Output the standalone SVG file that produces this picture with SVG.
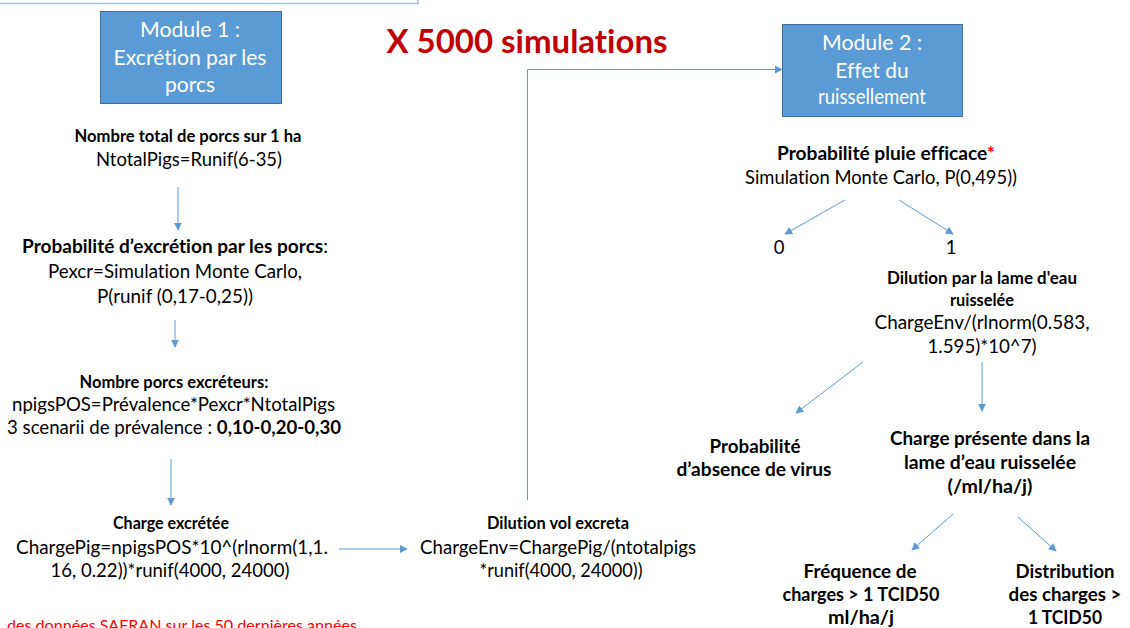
<svg xmlns="http://www.w3.org/2000/svg" width="1130" height="628" viewBox="0 0 1130 628">
<defs>
<style>
text{font-family:Lato,"Open Sans","Liberation Sans",sans-serif;fill:#000;text-anchor:middle;font-variant-ligatures:none}
.b{font-weight:bold}
.r{font-size:18.5px}
.s{font-size:16.5px;font-weight:bold}
.m{font-size:19px;font-weight:bold}
.w{fill:#fff;font-size:21px}
.box{fill:#5b9bd5;stroke:#41719c;stroke-width:1}
.c{fill:none;stroke:#5b9bd5;stroke-width:1}
</style>
<marker id="ah" viewBox="0 0 10 10" refX="9" refY="5" markerWidth="8" markerHeight="8" markerUnits="userSpaceOnUse" orient="auto">
<path d="M0,0 L10,5 L0,10 z" fill="#5b9bd5"/>
</marker>
</defs>
<rect width="1130" height="628" fill="#fff"/>
<path d="M0,3.5 H418 V0" fill="none" stroke="#a9c1dc" stroke-width="1.5"/>

<g id="module1">
<rect class="box" x="100.5" y="11.5" width="181" height="92"/>
<text class="w" x="190" y="37" textLength="100" lengthAdjust="spacingAndGlyphs">Module 1 :</text>
<text class="w" x="190" y="65" textLength="153" lengthAdjust="spacingAndGlyphs">Excrétion par les</text>
<text class="w" x="190" y="92">porcs</text>
</g>

<g id="title">
<text x="527" y="53" textLength="281" lengthAdjust="spacingAndGlyphs" style="font-size:33px;font-weight:bold;fill:#c00000">X 5000 simulations</text>
</g>

<g id="module2">
<rect class="box" x="782.5" y="24.5" width="180" height="92"/>
<text class="w" x="872" y="50" textLength="100" lengthAdjust="spacingAndGlyphs">Module 2 :</text>
<text class="w" x="872" y="78">Effet du</text>
<text class="w" x="872" y="104" textLength="108" lengthAdjust="spacingAndGlyphs">ruissellement</text>
</g>

<g id="n-total">
<text class="s" x="188" y="142" textLength="227" lengthAdjust="spacingAndGlyphs">Nombre total de porcs sur 1 ha</text>
<text class="r" x="189" y="166" textLength="186" lengthAdjust="spacingAndGlyphs">NtotalPigs=Runif(6-35)</text>
</g>

<g id="n-pexcr">
<text class="r" x="175" y="253" textLength="306" lengthAdjust="spacingAndGlyphs"><tspan class="b">Probabilité d’excrétion par les porcs</tspan>:</text>
<text class="r" x="175" y="278" textLength="254" lengthAdjust="spacingAndGlyphs">Pexcr=Simulation Monte Carlo,</text>
<text class="r" x="175" y="303" textLength="156" lengthAdjust="spacingAndGlyphs">P(runif (0,17-0,25))</text>
</g>

<g id="n-npos">
<text class="s" x="174" y="388" textLength="189" lengthAdjust="spacingAndGlyphs">Nombre porcs excréteurs:</text>
<text class="r" x="173.5" y="411" textLength="323" lengthAdjust="spacingAndGlyphs">npigsPOS=Prévalence*Pexcr*NtotalPigs</text>
<text class="r" x="174" y="434" textLength="334" lengthAdjust="spacingAndGlyphs">3 scenarii de prévalence : <tspan class="b">0,10-0,20-0,30</tspan></text>
</g>

<g id="n-chargepig">
<text class="s" x="171" y="529" textLength="116" lengthAdjust="spacingAndGlyphs">Charge excrétée</text>
<text class="r" x="172" y="554" textLength="312" lengthAdjust="spacingAndGlyphs">ChargePig=npigsPOS*10^(rlnorm(1,1.</text>
<text class="r" x="170" y="577" textLength="239" lengthAdjust="spacingAndGlyphs">16, 0.22))*runif(4000, 24000)</text>
</g>

<g id="n-note">
<text x="182" y="631" textLength="350" lengthAdjust="spacingAndGlyphs" style="font-size:16px;fill:#ff0000">des données SAFRAN sur les 50 dernières années</text>
</g>

<g id="n-dilution">
<text class="s" x="558" y="529" textLength="142" lengthAdjust="spacingAndGlyphs">Dilution vol excreta</text>
<text class="r" x="558" y="554" textLength="276" lengthAdjust="spacingAndGlyphs">ChargeEnv=ChargePig/(ntotalpigs</text>
<text class="r" x="561" y="577" textLength="163" lengthAdjust="spacingAndGlyphs">*runif(4000, 24000))</text>
</g>

<g id="n-pluie">
<text class="m" x="886" y="160" textLength="218" lengthAdjust="spacingAndGlyphs">Probabilité pluie efficace<tspan style="fill:#ff0000">*</tspan></text>
<text class="r" x="881" y="184" textLength="272" lengthAdjust="spacingAndGlyphs">Simulation Monte Carlo, P(0,495))</text>
</g>

<g id="n-zero"><text class="r" x="779" y="254">0</text></g>
<g id="n-one"><text class="r" x="951" y="254">1</text></g>

<g id="n-lame">
<text class="s" x="982" y="284" textLength="190" lengthAdjust="spacingAndGlyphs">Dilution par la lame d'eau</text>
<text class="s" x="982" y="306" textLength="64" lengthAdjust="spacingAndGlyphs">ruisselée</text>
<text class="r" x="982" y="329" textLength="215" lengthAdjust="spacingAndGlyphs">ChargeEnv/(rlnorm(0.583,</text>
<text class="r" x="982" y="353" textLength="109" lengthAdjust="spacingAndGlyphs">1.595)*10^7)</text>
</g>

<g id="n-absence">
<text class="m" x="755" y="453" textLength="91" lengthAdjust="spacingAndGlyphs">Probabilité</text>
<text class="m" x="754" y="476" textLength="155" lengthAdjust="spacingAndGlyphs">d’absence de virus</text>
</g>

<g id="n-charge">
<text class="m" x="990" y="445" textLength="200" lengthAdjust="spacingAndGlyphs">Charge présente dans la</text>
<text class="m" x="990" y="469" textLength="172" lengthAdjust="spacingAndGlyphs">lame d’eau ruisselée</text>
<text class="m" x="990" y="493" textLength="85" lengthAdjust="spacingAndGlyphs">(/ml/ha/j)</text>
</g>

<g id="n-freq">
<text class="m" x="860" y="578" textLength="113" lengthAdjust="spacingAndGlyphs">Fréquence de</text>
<text class="m" x="861" y="601" textLength="157" lengthAdjust="spacingAndGlyphs">charges &gt; 1 TCID50</text>
<text class="m" x="861" y="624" textLength="66" lengthAdjust="spacingAndGlyphs">ml/ha/j</text>
</g>

<g id="n-distrib">
<text class="m" x="1065" y="578" textLength="99" lengthAdjust="spacingAndGlyphs">Distribution</text>
<text class="m" x="1065" y="601" textLength="113" lengthAdjust="spacingAndGlyphs">des charges &gt;</text>
<text class="m" x="1065" y="624" textLength="74" lengthAdjust="spacingAndGlyphs">1 TCID50</text>
</g>

<g id="connectors">
<path class="c" d="M178,187 V230" marker-end="url(#ah)"/>
<path class="c" d="M175,320 V347" marker-end="url(#ah)"/>
<path class="c" d="M171,459 V505" marker-end="url(#ah)"/>
<path class="c" d="M339,549 H407" marker-end="url(#ah)"/>
<path class="c" d="M527.5,500 V69.5 H782" marker-end="url(#ah)"/>
<path class="c" d="M845,200 L785,234" marker-end="url(#ah)"/>
<path class="c" d="M899,200 L953,234" marker-end="url(#ah)"/>
<path class="c" d="M863,362 L796,413" marker-end="url(#ah)"/>
<path class="c" d="M982,362 V411" marker-end="url(#ah)"/>
<path class="c" d="M953,514 L912,550" marker-end="url(#ah)"/>
<path class="c" d="M1018,517 L1056,551" marker-end="url(#ah)"/>
</g>
</svg>
